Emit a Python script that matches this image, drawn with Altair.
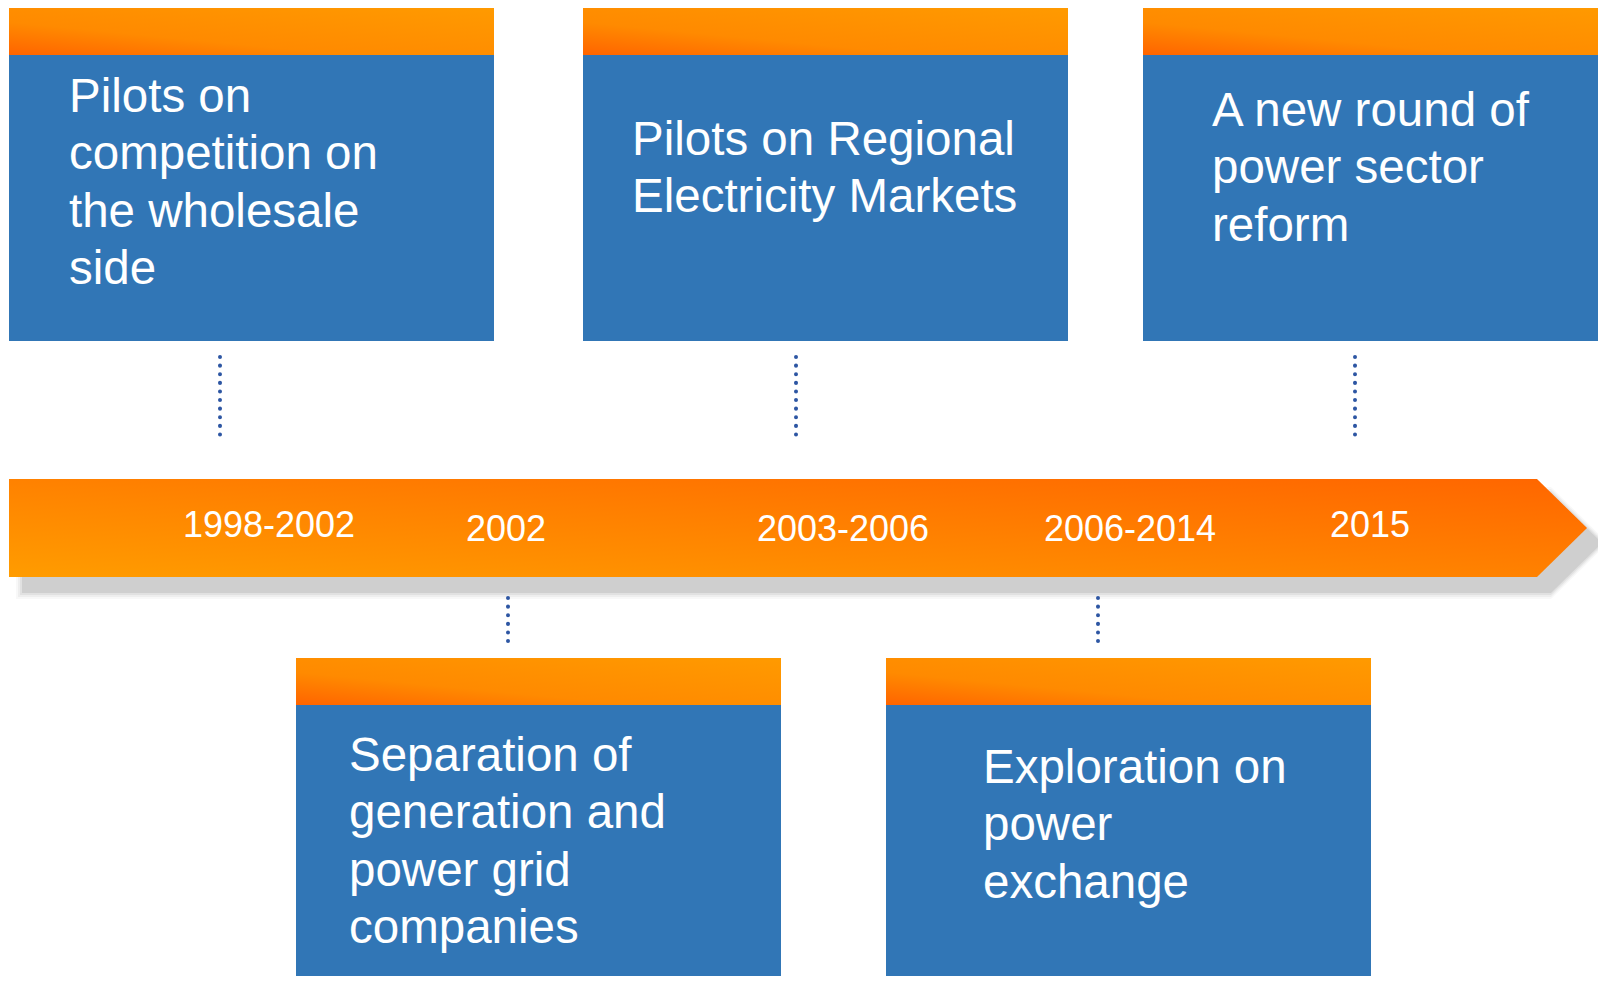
import altair as alt
import pandas as pd

# ---------------- data ----------------
box_texts = [
    "Pilots on\ncompetition on\nthe wholesale\nside",
    "Pilots on Regional\nElectricity Markets",
    "A new round of\npower sector\nreform",
    "Separation of\ngeneration and\npower grid\ncompanies",
    "Exploration on\npower\nexchange",
]
period_labels = ["1998-2002", "2002", "2003-2006", "2006-2014", "2015"]

# ---------------- layout (page pixel coordinates) ----------------
box_left = [9, 583, 1143, 296, 886]
box_right = [494, 1068, 1628, 781, 1371]
box_top = [8, 8, 8, 658, 658]
box_head = [55, 55, 55, 705, 705]
box_bottom = [341, 341, 341, 1000, 1000]
text_x = [69, 632, 1212, 349, 983]
text_y = [112, 155, 126, 771, 783]

label_x = [269, 506, 843, 1130, 1370]
label_y = [537, 541, 541, 541, 537]

conn_x = [220, 508, 796, 1098, 1355]
conn_y1 = [357, 598, 357, 598, 357]
conn_y2 = [443, 643, 443, 643, 443]

arrow_x = [9, 1537, 1587]
arrow_top = [479, 479, 528]
arrow_bottom = [577, 577, 528]

W, H = 1590, 968
XS = alt.Scale(domain=[8, 8 + W], range=[0, W], nice=False, zero=False)
YS = alt.Scale(domain=[8, 8 + H], range=[0, H], nice=False, zero=False)

boxes = pd.DataFrame(dict(x=box_left, x2=box_right, y=box_top, yh=box_head,
                          y2=box_bottom, tx=text_x, ty=text_y, text=box_texts))
labels = pd.DataFrame(dict(x=label_x, y=label_y, text=period_labels))
conns = pd.DataFrame(dict(x=conn_x, y=conn_y1, y2=conn_y2))
arrow = pd.DataFrame(dict(x=arrow_x, y=arrow_top, y2=arrow_bottom))

def shadow_df(dx, dy, e):
    return pd.DataFrame(dict(
        x=[arrow_x[0] + dx - e, arrow_x[1] + dx, arrow_x[2] + dx + e],
        y=[arrow_top[0] + dy - e, arrow_top[1] + dy - e, arrow_top[2] + dy],
        y2=[arrow_bottom[0] + dy + e, arrow_bottom[1] + dy + e, arrow_bottom[2] + dy],
    ))

def area_layer(df, color, opacity=1.0):
    return alt.Chart(df).mark_area(color=color, opacity=opacity, clip=True,
                                   interpolate="linear").encode(
        x=alt.X("x:Q", scale=XS, axis=None),
        y=alt.Y("y:Q", scale=YS, axis=None),
        y2="y2:Q",
    )

shadow_layers = [
    area_layer(shadow_df(14, 15, 7), "#dcdcdc", 0.2),
    area_layer(shadow_df(14, 15, 5), "#d6d6d6", 0.3),
    area_layer(shadow_df(14, 15, 3), "#d0d0d0", 0.45),
    area_layer(shadow_df(14, 15, 1), "#cacaca", 0.8),
]

arrow_grad = alt.Gradient(
    gradient="linear", x1=0, y1=1, x2=1, y2=0,
    stops=[alt.GradientStop(color="#ff9c00", offset=0),
           alt.GradientStop(color="#ff8400", offset=0.45),
           alt.GradientStop(color="#ff6600", offset=1)])
arrow_layer = area_layer(arrow, arrow_grad)

label_layer = alt.Chart(labels).mark_text(
    align="center", baseline="alphabetic", font="Liberation Sans",
    fontSize=36, color="white").encode(
    x=alt.X("x:Q", scale=XS, axis=None),
    y=alt.Y("y:Q", scale=YS, axis=None),
    text="text:N")

conn_layer = alt.Chart(conns).mark_rule(
    color="#2d56a3", strokeWidth=4, strokeDash=[0.1, 8.5], strokeCap="round").encode(
    x=alt.X("x:Q", scale=XS, axis=None),
    y=alt.Y("y:Q", scale=YS, axis=None),
    y2="y2:Q")

blue_layer = alt.Chart(boxes).mark_rect(color="#3176b6", clip=True).encode(
    x=alt.X("x:Q", scale=XS, axis=None), x2="x2:Q",
    y=alt.Y("yh:Q", scale=YS, axis=None), y2="y2:Q")

head_grad = alt.Gradient(
    gradient="linear", x1=0, y1=1, x2=1, y2=0,
    stops=[alt.GradientStop(color="#ff6400", offset=0),
           alt.GradientStop(color="#ff8a00", offset=0.35),
           alt.GradientStop(color="#ff9a00", offset=1)])
head_layer = alt.Chart(boxes).mark_rect(color=head_grad, clip=True).encode(
    x=alt.X("x:Q", scale=XS, axis=None), x2="x2:Q",
    y=alt.Y("y:Q", scale=YS, axis=None), y2="yh:Q")

text_layer = alt.Chart(boxes).mark_text(
    align="left", baseline="alphabetic", font="Liberation Sans",
    fontSize=47.5, color="white", lineBreak="\n", lineHeight=57.3).encode(
    x=alt.X("tx:Q", scale=XS, axis=None),
    y=alt.Y("ty:Q", scale=YS, axis=None),
    text="text:N")

chart = alt.layer(
    *shadow_layers, arrow_layer, label_layer, conn_layer,
    blue_layer, head_layer, text_layer,
).properties(
    width=W, height=H, padding=0, autosize=alt.AutoSizeParams(type="none"),
    background="white",
).configure_view(strokeWidth=0)

chart.save("out.html", embed_options={"renderer": "svg", "actions": False})
